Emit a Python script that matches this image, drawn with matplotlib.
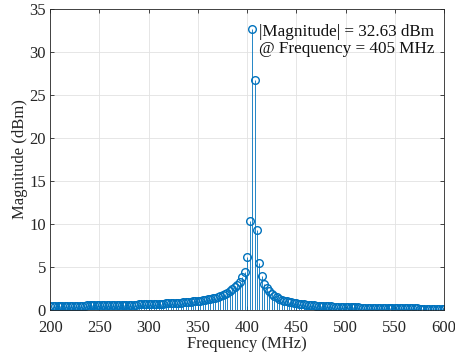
import numpy as np
import matplotlib
matplotlib.use('Agg')
import matplotlib.pyplot as plt

# frequency grid (MHz): 200 .. 600 in 2.5 MHz steps
freq_start = 200.0
freq_stop = 600.0
freq_step = 2.5

# magnitude (dBm), one value per frequency sample
mag_left = [0.47, 0.47, 0.47, 0.48, 0.48, 0.48, 0.49, 0.49, 0.49, 0.50,
            0.50, 0.50, 0.51, 0.51, 0.51, 0.52, 0.52, 0.53, 0.53, 0.53,
            0.54, 0.54, 0.55, 0.55, 0.56, 0.56, 0.57, 0.58, 0.58, 0.59,
            0.59, 0.60, 0.61, 0.61, 0.62, 0.63, 0.64, 0.65, 0.66, 0.67,
            0.68, 0.69, 0.70, 0.71, 0.72, 0.73, 0.75, 0.76, 0.77, 0.79,
            0.81, 0.82, 0.84, 0.86, 0.88, 0.91, 0.93, 0.96, 0.99, 1.02,
            1.05, 1.09, 1.13, 1.18, 1.23, 1.28, 1.35, 1.42, 1.50, 1.59,
            1.70, 1.83, 1.98, 2.16, 2.39, 2.65, 2.95]
mag_peak = [3.30, 3.80, 4.40, 6.20, 10.30, 32.63, 26.80, 9.30, 5.50, 3.90,
            3.00, 2.50, 2.15, 1.85]
mag_right = [1.62, 1.45, 1.31, 1.19, 1.09, 1.01, 0.94, 0.87, 0.82, 0.77,
             0.72, 0.69, 0.65, 0.62, 0.59, 0.56, 0.54, 0.51, 0.49, 0.47,
             0.45, 0.44, 0.42, 0.41, 0.39, 0.38, 0.37, 0.35, 0.34, 0.33,
             0.32, 0.31, 0.31, 0.30, 0.29, 0.28, 0.27, 0.27, 0.26, 0.25,
             0.25, 0.24, 0.24, 0.23, 0.22, 0.22, 0.21, 0.21, 0.20, 0.20,
             0.20, 0.19, 0.19, 0.18, 0.18, 0.18, 0.17, 0.17, 0.17, 0.16,
             0.16, 0.16, 0.15, 0.15, 0.15, 0.15, 0.14, 0.14, 0.14, 0.14]

peak_freq = 405
peak_mag = 32.63

x_ticks = [200, 250, 300, 350, 400, 450, 500, 550, 600]
y_ticks = [0, 5, 10, 15, 20, 25, 30, 35]

blue = '#0072BD'
plt.rcParams['font.family'] = ['Liberation Serif', 'DejaVu Serif']
plt.rcParams['font.size'] = 12

freq = np.arange(freq_start, freq_stop + freq_step / 2, freq_step)
mag = np.array(mag_left + mag_peak + mag_right)

fig = plt.figure(figsize=(4.56, 3.6), dpi=100)
ax = fig.add_axes([0.110, 0.139, 0.864, 0.836])

ax.grid(True, color='#e2e2e2', linewidth=0.6, zorder=0)
ax.set_axisbelow(True)

markerline, stemlines, baseline = ax.stem(freq, mag, basefmt=' ')
stemlines.set_color(blue)
stemlines.set_linewidth(0.6)
markerline.set_color(blue)
markerline.set_markerfacecolor('none')
markerline.set_markersize(5.5)
markerline.set_markeredgewidth(1.0)
ax.axhline(0, color=blue, linewidth=0.6)

ax.text(peak_freq + 7, peak_mag - 1.3,
        '|Magnitude| = %.2f dBm\n@ Frequency = %d MHz' % (peak_mag, peak_freq),
        va='center', ha='left', color='#111111', linespacing=1.1,
        fontsize=12.3)

ax.set_xlim(200, 600)
ax.set_ylim(0, 35)
ax.set_xticks(x_ticks)
ax.set_yticks(y_ticks)
ax.tick_params(direction='in', length=3, width=0.6, colors='#262626',
               top=True, right=True, labelcolor='#262626')
ax.tick_params(axis='x', pad=7)
ax.tick_params(axis='y', pad=3)
for sp in ax.spines.values():
    sp.set_color('#262626')
    sp.set_linewidth(0.6)

ax.set_xlabel('Frequency (MHz)', color='#262626', labelpad=0)
ax.set_ylabel('Magnitude (dBm)', color='#262626', labelpad=1)

fig.savefig('out.png', dpi=100)
